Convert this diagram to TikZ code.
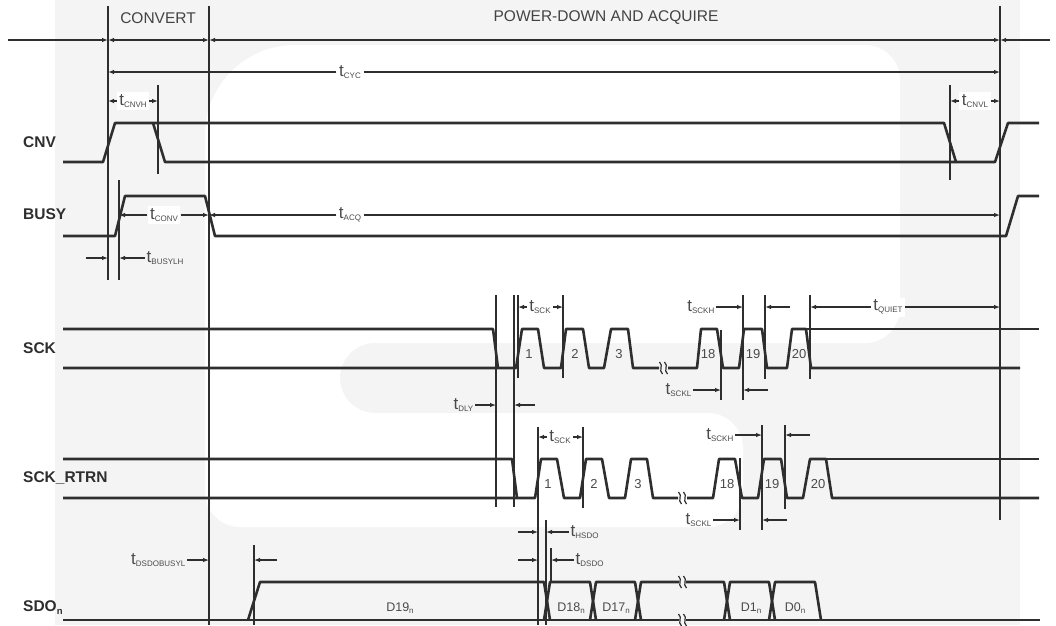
\documentclass[tikz,border=0pt]{standalone}
\usepackage{fontspec}
\setmainfont{Liberation Sans}
\usetikzlibrary{arrows.meta}
\definecolor{ink}{HTML}{2E2E2E}
\definecolor{lab}{HTML}{4A4A4A}
\definecolor{wm}{HTML}{F4F4F4}
\newcommand{\tsub}[1]{{\fontsize{17}{17}\selectfont t}\raisebox{-1.5pt}{\fontsize{8}{8}\selectfont #1}}
\newcommand{\dn}[1]{D#1\raisebox{-2.5pt}{\fontsize{8}{8}\selectfont n}}
\newcommand{\brkmark}[2]{\draw[brk] ({#1-1.5},{#2-6}) .. controls ({#1+3},{#2-2}) and ({#1-3},{#2+2}) .. ({#1+1.5},{#2+6});}
\begin{document}
\begin{tikzpicture}[x=1pt,y=-1pt,
  sig/.style={line width=2.6pt, draw=ink, line join=round},
  mk/.style={line width=1.1pt, draw=ink},
  brk/.style={line width=1.2pt, draw=ink},
  dim/.style={line width=1.1pt, draw=ink, -{Latex[length=6pt,width=4.5pt]}},
  tlab/.style={text=lab, inner sep=1.5pt},
  tbox/.style={text=lab, inner sep=2.5pt, fill=white},
  sname/.style={text=ink, inner sep=0pt, font=\fontsize{15.5}{16}\selectfont\bfseries},
  ttl/.style={text=ink!90, inner sep=0pt, font=\fontsize{15.5}{16}\selectfont},
  num/.style={text=lab, inner sep=0pt, font=\fontsize{13}{13}\selectfont},
  dat/.style={text=lab, inner sep=0pt, font=\fontsize{12.5}{13}\selectfont}]
\useasboundingbox (0,0) rectangle (1056,625);
% watermark
\fill[wm] (55,0) rectangle (1020,625);
\fill[white] (205,527) [rounded corners=90] -- (205,45) [rounded corners=35] -- (900,45) -- (900,343) -- (340,343) -- (340,413) -- (743,413) -- (743,527) -- cycle;

% vertical markers
\foreach \x/\a/\b in {108/6/280, 209/6/625, 1000/6/520, 119/180/280, 158/85/174, 950/85/180,
  496/295/507, 514/295/507, 518/295/378, 563/295/378, 743/295/400, 765/295/379, 721/330/400, 810/295/379,
  538/427/625, 583/427/508, 762/425/530, 785/425/509, 740/458/530, 546/520/625, 551/548/583, 254/545/625}
  \draw[mk] (\x,\a) -- (\x,\b);

% top phases
\node[ttl] (convert) at (158,18) {CONVERT};
\node[ttl] (pda) at (606,18) {POWER-DOWN AND ACQUIRE};
\coordinate (p0) at (8,40);
\coordinate (p1) at (108,40);
\coordinate (p2) at (209,40);
\coordinate (p3) at (1000,40);
\coordinate (p4) at (1050,40);
\draw[dim] (p0) -- (p1);
\draw[dim, {Latex[length=6pt,width=4.5pt]}-{Latex[length=6pt,width=4.5pt]}] (p1) -- (p2);
\draw[dim, {Latex[length=6pt,width=4.5pt]}-{Latex[length=6pt,width=4.5pt]}] (p2) -- (p3);
\draw[dim] (p4) -- (p3);

% t_CYC
\node[tbox] (tcyc) at (350,72) {\tsub{CYC}};
\draw[dim] (tcyc.west) -- (108,72);
\draw[dim] (tcyc.east) -- (1000,72);

% CNV
\node[sname, anchor=base west] (nCNV) at (23,147) {CNV};
\draw[sig] (63,162) -- (103,162) -- (115,123) -- (944,123) -- (956,162) -- (995,162) -- (1008,123) -- (1039,123);
\draw[sig] (153,123) -- (165,162) -- (956,162);
\node[tbox] (tcnvh) at (133,101) {\tsub{CNVH}};
\draw[dim] (tcnvh.west) -- (108,101);
\draw[dim] (tcnvh.east) -- (158,101);
\node[tbox] (tcnvl) at (975,101) {\tsub{CNVL}};
\draw[dim] (tcnvl.west) -- (950,101);
\draw[dim] (tcnvl.east) -- (1000,101);

% BUSY
\node[sname, anchor=base west] (nBUSY) at (23,219) {BUSY};
\draw[sig] (63,236) -- (115,236) -- (125,196) -- (205,196) -- (215,236) -- (1006,236) -- (1018,196) -- (1039,196);
\node[tbox] (tconv) at (164,215) {\tsub{CONV}};
\draw[dim] (tconv.west) -- (119,215);
\draw[dim] (tconv.east) -- (209,215);
\node[tbox] (tacq) at (350,215) {\tsub{ACQ}};
\draw[dim] (tacq.west) -- (209,215);
\draw[dim] (tacq.east) -- (1000,215);
\draw[dim] (86,258) -- (108,258);
\node[tlab, anchor=west] (tbusylh) at (145,258) {\tsub{BUSYLH}};
\draw[dim] (tbusylh.west) -- (119,258);

% SCK
\node[sname, anchor=base west] (nSCK) at (23,353) {SCK};
\draw[sig] (63,329) -- (493,329) -- (498,368);
\draw[sig] (63,368) -- (516,368) -- (522,329) -- (538,329) -- (544,368) -- (561,368) -- (566,329) -- (583,329) -- (589,368) -- (604,368) -- (611,329) -- (628,329) -- (633,368) -- (659,368);
\draw[sig] (668,368) -- (697,368) -- (701,329) -- (717,329) -- (723,368) -- (739,368) -- (744,329) -- (762,329) -- (767,368) -- (787,368) -- (792,329) -- (806,329) -- (811,368) -- (1020,368);
\draw[sig] (806,329) -- (1039,329);
\brkmark{661}{368}
\brkmark{666}{368}
\foreach \x/\t in {529/1, 575/2, 619/3, 708/18, 753/19, 799/20}
  \node[num, anchor=base] at (\x,358) {\t};
\node[tbox] (tsck) at (540,307) {\tsub{SCK}};
\draw[dim] (tsck.west) -- (518,307);
\draw[dim] (tsck.east) -- (563,307);
\node[tlab, anchor=east] (tsckh) at (716,307) {\tsub{SCKH}};
\draw[dim] (tsckh.east) -- (743,307);
\draw[dim] (790,307) -- (765,307);
\node[tbox] (tquiet) at (888,307) {\tsub{QUIET}};
\draw[dim] (tquiet.west) -- (810,307);
\draw[dim] (tquiet.east) -- (1000,307);
\node[tlab, anchor=east] (tsckl) at (693,390) {\tsub{SCKL}};
\draw[dim] (tsckl.east) -- (721,390);
\draw[dim] (768,390) -- (743,390);
\node[tlab, anchor=east] (tdly) at (475,405) {\tsub{DLY}};
\draw[dim] (tdly.east) -- (496,405);
\draw[dim] (535,405) -- (514,405);

% SCK_RTRN
\node[sname, anchor=base west] (nRTRN) at (23,482) {SCK\_RTRN};
\draw[sig] (63,459) -- (512,459) -- (517,498);
\draw[sig] (63,498) -- (535,498) -- (541,459) -- (557,459) -- (564,498) -- (580,498) -- (586,459) -- (602,459) -- (609,498) -- (625,498) -- (631,459) -- (647,459) -- (653,498) -- (678,498);
\draw[sig] (687,498) -- (713,498) -- (719,459) -- (735,459) -- (742,498) -- (758,498) -- (764,459) -- (781,459) -- (787,498) -- (803,498) -- (810,459) -- (826,459) -- (832,498) -- (1039,498);
\draw[sig] (826,459) -- (1039,459);
\brkmark{680}{498}
\brkmark{685}{498}
\foreach \x/\t in {548/1, 594/2, 638/3, 727/18, 772/19, 818/20}
  \node[num, anchor=base] at (\x,488) {\t};
\node[tbox] (tsckb) at (560,437) {\tsub{SCK}};
\draw[dim] (tsckb.west) -- (538,437);
\draw[dim] (tsckb.east) -- (583,437);
\node[tlab, anchor=east] (tsckhb) at (735,435) {\tsub{SCKH}};
\draw[dim] (tsckhb.east) -- (762,435);
\draw[dim] (810,435) -- (785,435);
\node[tlab, anchor=east] (tscklb) at (713,520) {\tsub{SCKL}};
\draw[dim] (tscklb.east) -- (740,520);
\draw[dim] (787,520) -- (762,520);
\draw[dim] (518,532) -- (538,532);
\node[tlab, anchor=west] (thsdo) at (569,532) {\tsub{HSDO}};
\draw[dim] (thsdo.west) -- (546,532);
\draw[dim] (518,560) -- (538,560);
\node[tlab, anchor=west] (tdsdo) at (574,560) {\tsub{DSDO}};
\draw[dim] (tdsdo.west) -- (551,560);

% SDO
\node[sname, anchor=base west] (nSDO) at (23,611) {SDO\raisebox{-3pt}{\fontsize{9.5}{9.5}\selectfont n}};
\node[tlab, anchor=east] (tdsdobusyl) at (187,560) {\tsub{DSDOBUSYL}};
\draw[dim] (tdsdobusyl.east) -- (209,560);
\draw[dim] (277,560) -- (254,560);
\draw[sig] (63,620) -- (679,620);
\draw[sig] (686,620) -- (1040,620);
\draw[sig] (248,620) -- (260,582) -- (544,582) -- (550,620);
\draw[sig] (544,620) -- (550,582) -- (590,582) -- (596,620);
\draw[sig] (590,620) -- (596,582) -- (635,582) -- (641,620);
\draw[sig] (635,620) -- (641,582) -- (679,582);
\draw[sig] (686,582) -- (724,582) -- (730,620);
\draw[sig] (724,620) -- (730,582) -- (769,582) -- (775,620);
\draw[sig] (769,620) -- (775,582) -- (815,582) -- (821,620);
\brkmark{680}{582}
\brkmark{685}{582}
\brkmark{680}{620}
\brkmark{685}{620}
\node[dat, anchor=base] (d19) at (400,611) {\dn{19}};
\node[dat, anchor=base] (d18) at (571,611) {\dn{18}};
\node[dat, anchor=base] (d17) at (616,611) {\dn{17}};
\node[dat, anchor=base] (d1) at (751,611) {\dn{1}};
\node[dat, anchor=base] (d0) at (795,611) {\dn{0}};
\end{tikzpicture}
\end{document}
